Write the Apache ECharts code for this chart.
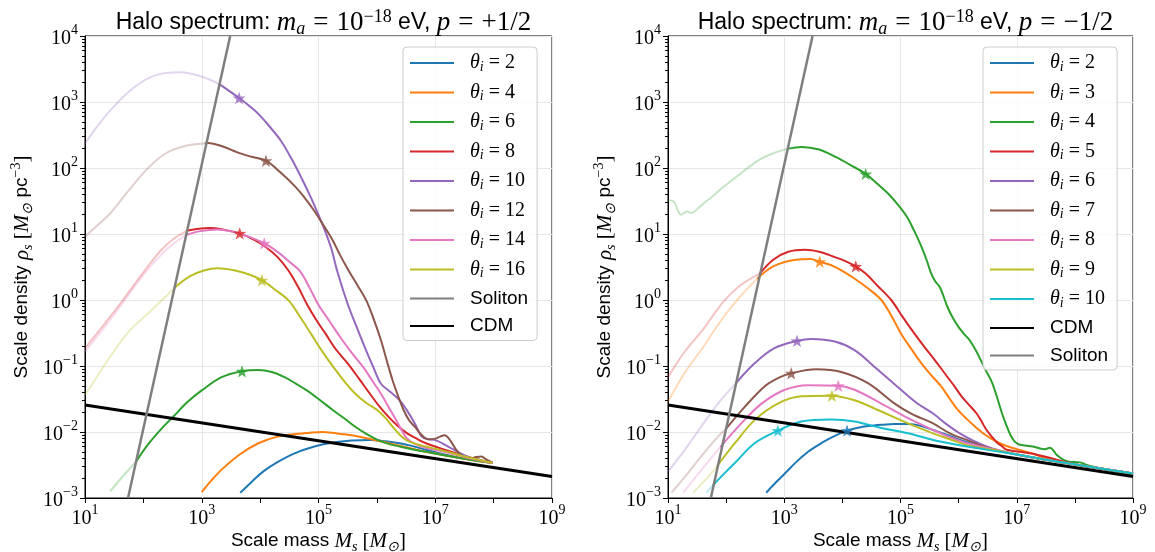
<!DOCTYPE html>
<html><head><meta charset="utf-8">
<script src="https://cdn.jsdelivr.net/npm/echarts@6/dist/echarts.min.js"></script>
<style>html,body{margin:0;padding:0;background:#fff}#c{width:1155px;height:552px}</style>
</head><body><div id="c"></div><script>
// ---------- tick labels (exponents of 10) ----------
const xTickExp = [1, 3, 5, 7, 9];
const yTickExp = [-3, -2, -1, 0, 1, 2, 3, 4];

// ---------- values: [log10 M_s, log10 rho_s] ----------
// reference lines
const SOLITON = [[1.737, -3], [3.487, 4]];
const CDM = [[1, -1.59], [9, -2.675]];

// Left panel, p = +1/2  (faint = part left of the soliton line)
const L2_solid = [[3.66,-2.92],[3.85,-2.76],[4.05,-2.60],[4.29,-2.46],[4.6,-2.32],[4.93,-2.22],[5.25,-2.16],[5.57,-2.13],[5.88,-2.12],[6.15,-2.14],[6.39,-2.17],[6.6,-2.21],[6.84,-2.27],[7.1,-2.33],[7.4,-2.39],[7.7,-2.43],[7.98,-2.47]];
const L4_solid = [[3.0,-2.91],[3.17,-2.73],[3.34,-2.57],[3.65,-2.34],[3.97,-2.17],[4.3,-2.07],[4.61,-2.03],[4.85,-2.01],[5.06,-2.0],[5.3,-2.02],[5.57,-2.05],[5.9,-2.11],[6.2,-2.17],[6.5,-2.23],[6.84,-2.30],[7.2,-2.36],[7.6,-2.42],[7.98,-2.47]];
const L6_faint = [[1.43,-2.90],[1.65,-2.67],[1.875,-2.45]];
const L6_solid = [[1.875,-2.45],[2.07,-2.20],[2.3,-1.96],[2.51,-1.77],[2.75,-1.55],[3.0,-1.37],[3.34,-1.17],[3.69,-1.08],[3.97,-1.06],[4.2,-1.09],[4.42,-1.17],[4.6,-1.26],[4.80,-1.37],[5.0,-1.50],[5.25,-1.67],[5.45,-1.80],[5.63,-1.92],[5.82,-2.03],[6.01,-2.12],[6.2,-2.18],[6.39,-2.22],[6.6,-2.26],[6.84,-2.30],[7.2,-2.36],[7.6,-2.42],[7.98,-2.47]];
const L8_faint = [[1.0,-0.73],[1.3,-0.40],[1.6,-0.06],[2.0,0.42],[2.3,0.75],[2.51,0.92],[2.75,1.05]];
const L8_solid = [[2.75,1.05],[2.95,1.08],[3.15,1.09],[3.4,1.06],[3.65,1.01],[3.9,0.91],[4.10,0.80],[4.30,0.65],[4.49,0.44],[4.65,0.20],[4.80,-0.06],[4.96,-0.30],[5.12,-0.51],[5.30,-0.75],[5.50,-0.96],[5.70,-1.20],[5.88,-1.42],[6.05,-1.62],[6.20,-1.77],[6.35,-1.90],[6.52,-2.02],[6.7,-2.11],[6.84,-2.17],[7.0,-2.22],[7.16,-2.27],[7.35,-2.32],[7.54,-2.37],[7.75,-2.42],[7.98,-2.47]];
const L10_faint = [[1.0,2.37],[1.2,2.62],[1.43,2.87],[1.81,3.2],[2.19,3.40],[2.62,3.45],[3.02,3.38],[3.30,3.27]];
const L10_solid = [[3.30,3.27],[3.45,3.18],[3.64,3.06],[3.80,2.95],[3.97,2.82],[4.15,2.64],[4.35,2.42],[4.55,2.12],[4.73,1.81],[4.87,1.55],[4.99,1.31],[5.12,1.03],[5.22,0.78],[5.32,0.44],[5.50,-0.06],[5.65,-0.40],[5.79,-0.71],[5.93,-1.00],[6.07,-1.27],[6.2,-1.37],[6.39,-1.52],[6.52,-1.68],[6.65,-1.87],[6.77,-2.07],[6.88,-2.11],[6.99,-2.12],[7.22,-2.22],[7.54,-2.37],[7.75,-2.42],[7.98,-2.47]];
const L12_faint = [[1.0,0.96],[1.2,1.12],[1.43,1.31],[1.75,1.66],[2.07,1.99],[2.38,2.22],[2.70,2.33],[3.05,2.37]];
const L12_solid = [[3.05,2.37],[3.11,2.38],[3.35,2.33],[3.6,2.24],[3.85,2.17],[4.10,2.11],[4.35,1.93],[4.61,1.71],[4.77,1.54],[4.92,1.36],[5.08,1.14],[5.24,0.91],[5.37,0.68],[5.52,0.44],[5.67,0.22],[5.82,-0.01],[5.95,-0.30],[6.07,-0.61],[6.17,-0.92],[6.27,-1.22],[6.37,-1.47],[6.46,-1.67],[6.55,-1.82],[6.65,-1.92],[6.75,-2.03],[6.84,-2.10],[6.92,-2.11],[7.0,-2.10],[7.08,-2.07],[7.16,-2.05],[7.25,-2.12],[7.35,-2.26],[7.44,-2.35],[7.52,-2.39],[7.6,-2.40],[7.7,-2.38],[7.79,-2.37],[7.88,-2.42],[7.98,-2.46]];
const L14_faint = [[1.0,-0.78],[1.3,-0.45],[1.6,-0.10],[2.0,0.38],[2.3,0.68],[2.51,0.85],[2.72,0.98]];
const L14_solid = [[2.72,0.98],[2.95,1.04],[3.27,1.07],[3.5,1.04],[3.8,0.96],[4.07,0.86],[4.3,0.73],[4.5,0.58],[4.68,0.44],[4.85,0.18],[4.99,-0.06],[5.18,-0.31],[5.37,-0.56],[5.57,-0.80],[5.76,-1.01],[5.92,-1.22],[6.07,-1.42],[6.20,-1.62],[6.33,-1.82],[6.43,-1.98],[6.52,-2.10],[6.65,-2.18],[6.84,-2.24],[7.16,-2.30],[7.54,-2.39],[7.98,-2.47]];
const L16_faint = [[1.0,-1.44],[1.2,-1.17],[1.43,-0.86],[1.75,-0.48],[2.07,-0.21],[2.3,-0.02],[2.54,0.19]];
const L16_solid = [[2.54,0.19],[2.8,0.36],[3.05,0.45],[3.27,0.48],[3.55,0.45],[3.8,0.39],[4.03,0.30],[4.25,0.16],[4.49,-0.01],[4.68,-0.25],[4.87,-0.51],[5.05,-0.76],[5.25,-1.01],[5.45,-1.24],[5.63,-1.42],[5.82,-1.56],[6.01,-1.67],[6.15,-1.79],[6.27,-1.92],[6.40,-2.05],[6.52,-2.13],[6.7,-2.19],[6.84,-2.22],[7.16,-2.29],[7.54,-2.38],[7.98,-2.47]];
const L6_star = [3.69,-1.08], L8_star = [3.65,1.01], L10_star = [3.64,3.06], L12_star = [4.10,2.11], L14_star = [4.07,0.86], L16_star = [4.03,0.30];

// Right panel, p = -1/2
const R2_solid = [[2.69,-2.92],[2.85,-2.77],[3.01,-2.63],[3.2,-2.46],[3.41,-2.30],[3.6,-2.19],[3.8,-2.09],[4.08,-1.98],[4.25,-1.94],[4.44,-1.91],[4.68,-1.89],[4.90,-1.88],[5.13,-1.88],[5.36,-1.91],[5.56,-1.97],[5.76,-2.03],[5.96,-2.10],[6.16,-2.16],[6.37,-2.22],[6.6,-2.27],[7.0,-2.34],[7.5,-2.42],[8.0,-2.49],[8.5,-2.56],[9.0,-2.63]];
const R3_faint = [[1.0,-1.54],[1.29,-1.10],[1.6,-0.72],[1.92,-0.30],[2.22,0.03],[2.53,0.32]];
const R3_solid = [[2.53,0.32],[2.81,0.51],[3.2,0.61],[3.45,0.62],[3.61,0.58],[3.8,0.53],[3.96,0.46],[4.2,0.33],[4.45,0.17],[4.67,0.0],[4.85,-0.25],[5.01,-0.51],[5.2,-0.76],[5.36,-0.96],[5.53,-1.14],[5.70,-1.31],[5.85,-1.50],[5.99,-1.67],[6.16,-1.82],[6.3,-1.93],[6.42,-2.02],[6.56,-2.10],[6.71,-2.17],[6.85,-2.22],[7.0,-2.26],[7.28,-2.33],[7.5,-2.40],[8.0,-2.49],[8.5,-2.56],[9.0,-2.63]];
const R4_faint = [[1.0,1.51],[1.1,1.49],[1.16,1.38],[1.22,1.29],[1.28,1.32],[1.32,1.34],[1.37,1.33],[1.41,1.32],[1.54,1.41],[1.75,1.56],[1.92,1.69],[2.24,1.91],[2.56,2.12],[2.8,2.22],[3.05,2.29]];
const R4_solid = [[3.05,2.29],[3.30,2.32],[3.6,2.28],[3.9,2.16],[4.15,2.04],[4.40,1.91],[4.6,1.76],[4.79,1.61],[4.95,1.45],[5.11,1.26],[5.24,1.04],[5.36,0.81],[5.46,0.58],[5.52,0.42],[5.60,0.28],[5.68,0.19],[5.81,-0.11],[5.90,-0.27],[6.0,-0.41],[6.10,-0.52],[6.19,-0.61],[6.30,-0.77],[6.38,-0.91],[6.47,-1.07],[6.57,-1.24],[6.66,-1.47],[6.74,-1.70],[6.83,-1.92],[6.90,-2.06],[6.97,-2.15],[7.04,-2.19],[7.11,-2.20],[7.28,-2.22],[7.40,-2.25],[7.48,-2.26],[7.57,-2.24],[7.63,-2.28],[7.69,-2.35],[7.80,-2.42],[7.9,-2.45],[8.09,-2.46],[8.20,-2.50],[8.43,-2.55],[8.7,-2.60],[9.0,-2.65]];
const R5_faint = [[1.0,-1.17],[1.29,-0.78],[1.6,-0.45],[1.95,-0.03],[2.24,0.22],[2.58,0.40]];
const R5_solid = [[2.58,0.40],[2.81,0.61],[3.07,0.73],[3.36,0.76],[3.6,0.73],[3.84,0.66],[4.05,0.59],[4.23,0.51],[4.4,0.40],[4.6,0.22],[4.84,0.0],[5.04,-0.26],[5.24,-0.51],[5.42,-0.72],[5.59,-0.91],[5.76,-1.11],[5.93,-1.31],[6.05,-1.46],[6.16,-1.57],[6.31,-1.72],[6.40,-1.85],[6.48,-1.97],[6.57,-2.07],[6.65,-2.15],[6.75,-2.22],[6.83,-2.27],[7.05,-2.30],[7.28,-2.33],[7.51,-2.38],[8.0,-2.49],[8.5,-2.56],[9.0,-2.63]];
const R6_faint = [[1.0,-2.60],[1.29,-2.27],[1.57,-1.92],[1.86,-1.57],[2.17,-1.26]];
const R6_solid = [[2.17,-1.26],[2.49,-0.96],[2.83,-0.73],[3.22,-0.62],[3.47,-0.59],[3.87,-0.63],[4.21,-0.76],[4.55,-1.01],[5.01,-1.36],[5.28,-1.56],[5.56,-1.72],[5.79,-1.88],[6.02,-2.02],[6.25,-2.13],[6.48,-2.22],[6.7,-2.28],[7.0,-2.34],[7.5,-2.42],[8.0,-2.49],[8.5,-2.56],[9.0,-2.63]];
const R7_faint = [[1.06,-2.92],[1.29,-2.68],[1.57,-2.37],[1.86,-2.07],[2.0,-1.95]];
const R7_solid = [[2.0,-1.95],[2.32,-1.62],[2.66,-1.31],[2.9,-1.18],[3.12,-1.11],[3.55,-1.05],[3.98,-1.09],[4.44,-1.26],[4.90,-1.57],[5.2,-1.73],[5.56,-1.87],[5.85,-2.02],[6.14,-2.12],[6.54,-2.25],[7.0,-2.34],[7.5,-2.42],[8.0,-2.49],[8.5,-2.56],[9.0,-2.63]];
const R8_faint = [[1.26,-2.92],[1.57,-2.58],[1.9,-2.23]];
const R8_solid = [[1.9,-2.23],[2.26,-1.87],[2.61,-1.57],[3.01,-1.36],[3.41,-1.29],[3.93,-1.30],[4.21,-1.36],[4.67,-1.57],[5.13,-1.79],[5.56,-1.97],[5.85,-2.08],[6.14,-2.17],[6.6,-2.26],[7.0,-2.34],[7.5,-2.42],[8.0,-2.49],[8.5,-2.56],[9.0,-2.63]];
const R9_faint = [[1.43,-2.92],[1.69,-2.68],[1.84,-2.52]];
const R9_solid = [[1.84,-2.52],[2.15,-2.17],[2.49,-1.82],[2.89,-1.57],[3.29,-1.46],[3.82,-1.45],[4.21,-1.52],[4.67,-1.69],[5.13,-1.87],[5.56,-2.02],[5.85,-2.11],[6.14,-2.20],[6.6,-2.27],[7.0,-2.34],[7.5,-2.42],[8.0,-2.49],[8.5,-2.56],[9.0,-2.63]];
const R10_faint = [[1.66,-2.92],[1.77,-2.81]];
const R10_solid = [[1.77,-2.81],[2.0,-2.60],[2.15,-2.47],[2.49,-2.17],[2.89,-1.98],[3.29,-1.84],[3.81,-1.81],[4.21,-1.84],[4.67,-1.94],[5.13,-2.02],[5.56,-2.12],[6.14,-2.22],[6.71,-2.30],[7.0,-2.34],[7.5,-2.42],[8.0,-2.49],[8.5,-2.56],[9.0,-2.63]];
const R2_star = [4.08,-1.98], R3_star = [3.61,0.58], R4_star = [4.40,1.91], R5_star = [4.23,0.51], R6_star = [3.22,-0.62], R7_star = [3.12,-1.11], R8_star = [3.93,-1.30], R9_star = [3.82,-1.45], R10_star = [2.89,-1.98];

const L_theta = [2, 4, 6, 8, 10, 12, 14, 16];
const R_theta = [2, 3, 4, 5, 6, 7, 8, 9, 10];

// ---------- styling / building ----------
const C = ['#1f77b4','#ff7f0e','#2ca02c','#d62728','#9467bd','#8c564b','#e377c2','#bcbd22','#17becf'];
const STAR = 'path://M0,-10L2.35,-3.24L9.51,-3.09L3.8,1.24L5.88,8.09L0,4L-5.88,8.09L-3.8,1.24L-9.51,-3.09L-2.35,-3.24Z';
const P = a => a.map(p => [Math.pow(10, p[0]), Math.pow(10, p[1])]);
const SERIF = 'Liberation Serif', SANS = 'Liberation Sans';

const series = [];
function curve(g, name, color, faint, solid, star) {
  if (faint) series.push({type:'line', name: name + 'f', xAxisIndex:g, yAxisIndex:g, data:P(faint), showSymbol:false, symbol:'none', smooth:0.35, lineStyle:{color, width:2, opacity:0.28}, itemStyle:{color}, z:2, silent:true});
  series.push({type:'line', name, xAxisIndex:g, yAxisIndex:g, data:P(solid), showSymbol:false, symbol:'none', smooth:0.35, lineStyle:{color, width:2}, itemStyle:{color}, z:2, silent:true});
  if (star) series.push({type:'scatter', name: name + 's', xAxisIndex:g, yAxisIndex:g, data:P([star]), symbol:STAR, symbolKeepAspect:true, symbolSize:13, itemStyle:{color}, z:6, silent:true});
}
curve(0,'a2',C[0],null,L2_solid,null);
curve(0,'a4',C[1],null,L4_solid,null);
curve(0,'a6',C[2],L6_faint,L6_solid,L6_star);
curve(0,'a8',C[3],L8_faint,L8_solid,L8_star);
curve(0,'a10',C[4],L10_faint,L10_solid,L10_star);
curve(0,'a12',C[5],L12_faint,L12_solid,L12_star);
curve(0,'a14',C[6],L14_faint,L14_solid,L14_star);
curve(0,'a16',C[7],L16_faint,L16_solid,L16_star);
curve(1,'b2',C[0],null,R2_solid,R2_star);
curve(1,'b3',C[1],R3_faint,R3_solid,R3_star);
curve(1,'b4',C[2],R4_faint,R4_solid,R4_star);
curve(1,'b5',C[3],R5_faint,R5_solid,R5_star);
curve(1,'b6',C[4],R6_faint,R6_solid,R6_star);
curve(1,'b7',C[5],R7_faint,R7_solid,R7_star);
curve(1,'b8',C[6],R8_faint,R8_solid,R8_star);
curve(1,'b9',C[7],R9_faint,R9_solid,R9_star);
curve(1,'b10',C[8],R10_faint,R10_solid,R10_star);
for (const g of [0,1]) {
  const pre = g ? 'b' : 'a';
  series.push({type:'line', name: pre+'CDM', xAxisIndex:g, yAxisIndex:g, data:P(CDM), showSymbol:false, symbol:'none', lineStyle:{color:'#000', width:3}, itemStyle:{color:'#000'}, z:3, silent:true});
  series.push({type:'line', name: pre+'Sol', xAxisIndex:g, yAxisIndex:g, data:P(SOLITON), showSymbol:false, symbol:'none', lineStyle:{color:'#7f7f7f', width:2.5}, itemStyle:{color:'#7f7f7f'}, z:4, silent:true});
}

const supTxt = e => (e < 0 ? '\u2212' + (-e) : '' + e);
const tickRich = {
  b: {fontFamily:SERIF, fontSize:20, color:'#000', lineHeight:26, verticalAlign:'bottom'},
  s: {fontFamily:SERIF, fontSize:14, color:'#000', lineHeight:14, verticalAlign:'top'}
};
const fmt = list => v => { const e = Math.round(Math.log10(v)); return list.includes(e) ? '{b|10}{s|' + supTxt(e) + '}' : ''; };
const nameRich = {
  t: {fontFamily:SANS, fontSize:19, color:'#000', lineHeight:26},
  i: {fontFamily:SERIF, fontStyle:'italic', fontSize:21, color:'#000', lineHeight:26},
  r: {fontFamily:SERIF, fontSize:21, color:'#000', lineHeight:26},
  sub: {fontFamily:SERIF, fontStyle:'italic', fontSize:14, color:'#000', lineHeight:18, verticalAlign:'bottom'},
  sup: {fontFamily:SERIF, fontSize:14, color:'#000', lineHeight:14, verticalAlign:'top'}
};
const xName = '{t|Scale mass }{i|M}{sub|s}{r| [}{i|M}{sub|\u2299}{r|]}';
const yName = '{t|Scale density }{i|\u03c1}{sub|s}{r| [}{i|M}{sub|\u2299}{t| pc}{sup|\u22123}{r|]}';

const grids = [{left:85, top:36, width:467, height:462}, {left:668, top:36, width:465, height:462}];
const xAxes = grids.map((_, g) => ({
  type:'log', logBase:10, gridIndex:g, min:Math.pow(10, xTickExp[0]), max:Math.pow(10, xTickExp[xTickExp.length-1]), splitNumber:8,
  axisLine:{show:true, lineStyle:{color:'#000', width:1}},
  axisTick:{show:true, inside:false, length:5, lineStyle:{color:'#000'}},
  axisLabel:{formatter:fmt(xTickExp), margin:5, rich:tickRich, showMinLabel:true, showMaxLabel:true},
  splitLine:{show:true, lineStyle:{color:['#e6e6e6','rgba(0,0,0,0)'], width:1}},
  name:xName, nameLocation:'middle', nameGap:30, nameMoveOverlap:false, nameTextStyle:{rich:nameRich}
}));
const yAxes = grids.map((_, g) => ({
  type:'log', logBase:10, gridIndex:g, min:Math.pow(10, yTickExp[0]), max:Math.pow(10, yTickExp[yTickExp.length-1]), splitNumber:7,
  axisLine:{show:true, lineStyle:{color:'#000', width:1}},
  axisTick:{show:true, inside:false, length:5, lineStyle:{color:'#000'}},
  minorTick:{show:true, splitNumber:9, length:3, lineStyle:{color:'#000'}},
  axisLabel:{formatter:fmt(yTickExp), margin:7, rich:tickRich, showMinLabel:true, showMaxLabel:true},
  splitLine:{show:true, lineStyle:{color:'#e6e6e6', width:1}},
  name:yName, nameLocation:'middle', nameGap:50, nameMoveOverlap:false, nameRotate:90, nameTextStyle:{rich:nameRich}
}));

const tf = {color:'#000', fontWeight:'normal', lineHeight:30};
const titleRich = {
  t: Object.assign({fontFamily:SANS, fontSize:23}, tf),
  m: Object.assign({fontFamily:SERIF, fontStyle:'italic', fontSize:27}, tf),
  r: Object.assign({fontFamily:SERIF, fontSize:27}, tf),
  q: Object.assign({fontFamily:SERIF, fontSize:27, padding:[0,8,0,8]}, tf),
  sub: {fontFamily:SERIF, fontStyle:'italic', fontWeight:'normal', fontSize:18, color:'#000', lineHeight:22, verticalAlign:'bottom'},
  sup: {fontFamily:SERIF, fontWeight:'normal', fontSize:18, color:'#000', lineHeight:16, verticalAlign:'top'}
};
const mkTitle = (x, sign) => ({
  text: '{t|Halo spectrum: }{m|m}{sub|a}{q|=}{r|10}{sup|\u221218}{t| eV, }{m|p}{q|=}{r|' + sign + '1/2}',
  left: x, top: 3, textAlign: 'center', textStyle: {fontWeight:'normal', rich: titleRich}
});

const legRich = {
  g: {width:11},
  th: {fontFamily:SERIF, fontStyle:'italic', fontSize:20, color:'#000', lineHeight:22},
  sub: {fontFamily:SERIF, fontStyle:'italic', fontSize:14, color:'#000', lineHeight:13, verticalAlign:'bottom'},
  q: {fontFamily:SERIF, fontSize:20, color:'#000', lineHeight:22, padding:[0,5,0,5]},
  eq: {fontFamily:SERIF, fontSize:20, color:'#000', lineHeight:22},
  tx: {fontFamily:SANS, fontSize:19, color:'#000', lineHeight:22}
};
const legTxt = {};
L_theta.forEach(t => legTxt['a' + t] = '{g| }{th|\u03b8}{sub|i}{q|=}{eq|' + t + '}');
R_theta.forEach(t => legTxt['b' + t] = '{g| }{th|\u03b8}{sub|i}{q|=}{eq|' + t + '}');
['a','b'].forEach(p => { legTxt[p + 'Sol'] = '{g| }{tx|Soliton}'; legTxt[p + 'CDM'] = '{g| }{tx|CDM}'; });
const mkLegend = (x, data) => ({
  left: x, top: 47, orient: 'vertical', icon: 'rect', itemWidth: 44, itemHeight: 2.2, itemGap: 8.5,
  padding: [6, 9, 5, 7], borderColor: '#cccccc', borderWidth: 1, borderRadius: 4,
  backgroundColor: 'rgba(255,255,255,0.8)', selectedMode: false, z: 10,
  data, formatter: n => legTxt[n], textStyle: {rich: legRich}
});

const chart = echarts.init(document.getElementById('c'), null, {renderer:'canvas'});
chart.setOption({
  animation: false,
  backgroundColor: '#fff',
  title: [mkTitle(318.5, '+'), mkTitle(900.5, '\u2212')],
  grid: grids.map(g => Object.assign({show:true, borderColor:'#000', borderWidth:1, backgroundColor:'transparent', containLabel:false, outerBoundsMode:'none'}, g)),
  xAxis: xAxes, yAxis: yAxes,
  legend: [
    mkLegend(403, L_theta.map(t => 'a' + t).concat(['aSol','aCDM'])),
    mkLegend(983, R_theta.map(t => 'b' + t).concat(['bCDM','bSol']))
  ],
  series
});
</script></body></html>
